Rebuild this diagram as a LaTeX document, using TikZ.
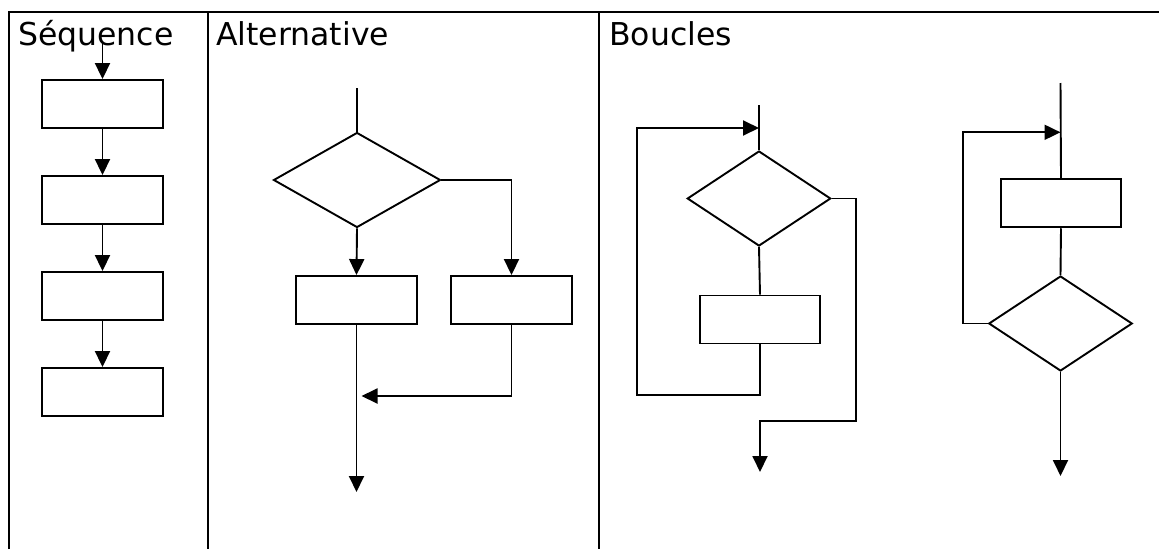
\documentclass[tikz,border=0pt]{standalone}
\usepackage{fontspec}
\setmainfont{DejaVu Sans}
\usetikzlibrary{arrows.meta,shapes.geometric}
\tikzset{
  frameline/.style={line width=2.4pt},
  conn/.style={line width=1.9pt},
  arr/.style={conn,-{Triangle[length=16pt 0 0,width=15pt 0 0]}},
  stepbox/.style={draw,line width=1.9pt,rectangle,inner sep=0pt,minimum width=120.5pt,minimum height=48pt},
  decision/.style={draw,line width=1.9pt,diamond,inner sep=0pt,minimum height=95pt},
  title/.style={anchor=base west,inner sep=0pt,font=\fontsize{31.5pt}{36pt}\selectfont}
}
\begin{document}
\begin{tikzpicture}[x=1pt,y=-1pt]
\useasboundingbox (0,0) rectangle (1159,549);
% frame
\draw[frameline] (9,549) -- (9,12) -- (1159,12);
\draw[frameline] (208,12) -- (208,549);
\draw[frameline] (599,12) -- (599,549);
% titles
\node[title] (tseq) at (18,45) {Séquence};
\node[title] (talt) at (216,45) {Alternative};
\node[title] (tbou) at (609,45) {Boucles};
% Sequence
\node[stepbox] (s1) at (102.5,104) {};
\node[stepbox] (s2) at (102.5,200) {};
\node[stepbox] (s3) at (102.5,296) {};
\node[stepbox] (s4) at (102.5,392) {};
\coordinate (s0) at (102.5,42);
\draw[arr] (s0) -- (s1.north);
\draw[arr] (s1.south) -- (s2.north);
\draw[arr] (s2.south) -- (s3.north);
\draw[arr] (s3.south) -- (s4.north);
% Alternative
\node[decision,minimum width=167pt] (ad) at (357,180) {};
\node[stepbox] (al) at (356.5,300) {};
\node[stepbox] (ar) at (511.5,300) {};
\coordinate (atop) at (357,88);
\coordinate (amerge) at (361.5,396);
\coordinate (aend) at (356.5,492);
\draw[conn] (atop) -- (ad.north);
\draw[arr] (ad.south) -- (al.north);
\draw[arr] (ad.east) -| (ar.north);
\draw[arr] (al.south) -- (aend);
\draw[arr] (ar.south) |- (amerge);
% Boucles 1
\node[decision,minimum width=143.5pt] (bd1) at (759,198.5) {};
\node[stepbox,minimum width=120pt] (bb1) at (760,319.5) {};
\coordinate (b1top) at (759,105);
\coordinate (b1in) at (759,128);
\coordinate (b1c) at (637,395);
\coordinate (b1x) at (856,421);
\coordinate (b1out) at (760,472);
\draw[conn] (b1top) -- (bd1.north);
\draw[conn] (bd1.south) -- (bb1.north);
\draw[arr] (bb1.south) |- (b1c) |- (b1in);
\draw[arr] (bd1.east) -| (b1x) -| (b1out);
% Boucles 2
\node[stepbox,minimum width=120pt] (bb2) at (1061,203.3) {};
\node[decision,minimum width=143.5pt] (bd2) at (1060.5,323.5) {};
\coordinate (b2top) at (1060.5,83);
\coordinate (b2in) at (1060.5,132.3);
\coordinate (b2c) at (963.3,132.3);
\coordinate (b2out) at (1060.5,476);
\draw[conn] (b2top) -- (bb2.north);
\draw[conn] (bb2.south) -- (bd2.north);
\draw[arr] (bd2.west) -| (b2c) -- (b2in);
\draw[arr] (bd2.south) -- (b2out);
\end{tikzpicture}
\end{document}
